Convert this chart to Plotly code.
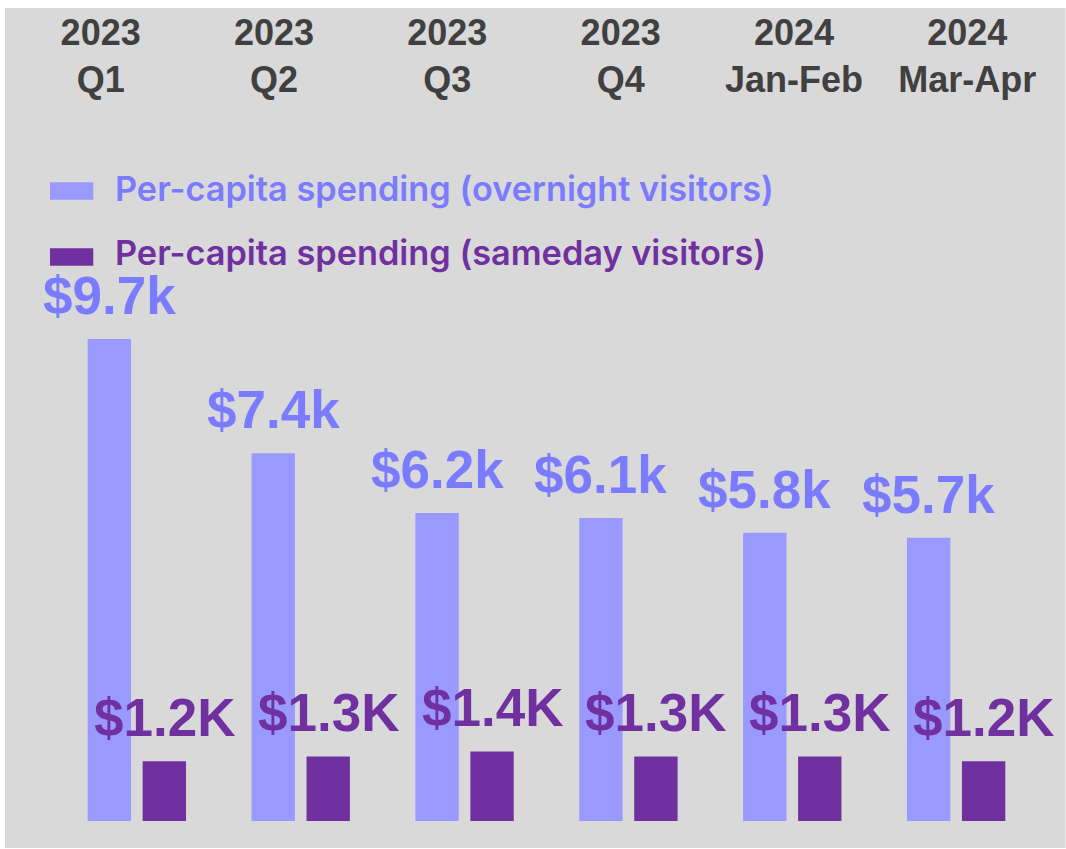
import plotly.graph_objects as go

# ---- data ----
periods = ["2023 Q1", "2023 Q2", "2023 Q3", "2023 Q4", "2024 Jan-Feb", "2024 Mar-Apr"]
period_labels = ["2023<br>Q1", "2023<br>Q2", "2023<br>Q3", "2023<br>Q4", "2024<br>Jan-Feb", "2024<br>Mar-Apr"]
overnight = [9700, 7400, 6200, 6100, 5800, 5700]
sameday = [1200, 1300, 1400, 1300, 1300, 1200]
overnight_name = "Per-capita spending (overnight visitors)"
sameday_name = "Per-capita spending (sameday visitors)"

overnight_text = [f"${v/1000:.1f}k" for v in overnight]
sameday_text = [f"${v/1000:.1f}K" for v in sameday]

# ---- layout geometry (pixels) ----
W, H = 1066, 849
L, R = 14, 1066 - 1054.4
T, B = 100, 849 - 821
plot_w = W - L - R
plot_h = H - T - B
px_per_unit = 49.69 / 1000.0
y_max = plot_h / px_per_unit
BAR_OFFSET = 27.5  # px between group centre and each bar centre

def fx(px):
    return (px - L) / plot_w

def fy(py):
    return (H - B - py) / plot_h

C_OVER = "#9999FF"
C_OVER_TXT = "#7B7BFF"
C_SAME = "#7030A0"
BG = "#D9D9D9"

fig = go.Figure()
fig.add_trace(go.Bar(
    x=periods, y=overnight, name=overnight_name,
    marker=dict(color=C_OVER, line=dict(width=0)),
    showlegend=False, hoverinfo="x+y",
))
fig.add_trace(go.Bar(
    x=periods, y=sameday, name=sameday_name,
    marker=dict(color=C_SAME, line=dict(width=0)),
    showlegend=False, hoverinfo="x+y",
))
# invisible trace to hold the top period axis
fig.add_trace(go.Scatter(x=[], y=[], xaxis="x2", yaxis="y", showlegend=False, hoverinfo="skip"))

shapes = [
    dict(type="rect", xref="paper", yref="paper", layer="below",
         x0=fx(5), x1=fx(1066), y0=fy(848), y1=fy(8),
         fillcolor=BG, line=dict(width=0)),
    dict(type="rect", xref="paper", yref="paper",
         x0=fx(50), x1=fx(93.3), y0=fy(199.7), y1=fy(182.3),
         fillcolor=C_OVER, line=dict(width=0)),
    dict(type="rect", xref="paper", yref="paper",
         x0=fx(50), x1=fx(93.3), y0=fy(265.7), y1=fy(248.3),
         fillcolor=C_SAME, line=dict(width=0)),
]
annotations = [
    dict(xref="paper", yref="paper", x=fx(113), y=fy(189), xanchor="left", yanchor="middle",
         text=overnight_name, showarrow=False,
         font=dict(family="Inter", size=34.3, color=C_OVER_TXT, weight=600)),
    dict(xref="paper", yref="paper", x=fx(113), y=fy(252), xanchor="left", yanchor="middle",
         text=sameday_name, showarrow=False,
         font=dict(family="Inter", size=34.3, color=C_SAME, weight=600)),
]
label_font = dict(family="Liberation Sans", size=53, weight="bold")
for p, v, t in zip(periods, overnight, overnight_text):
    annotations.append(dict(xref="x", yref="y", x=p, y=v, text=t, showarrow=False,
                            xanchor="center", yanchor="bottom", xshift=-BAR_OFFSET, yshift=12,
                            font=dict(label_font, color=C_OVER_TXT)))
for p, v, t in zip(periods, sameday, sameday_text):
    annotations.append(dict(xref="x", yref="y", x=p, y=v, text=t, showarrow=False,
                            xanchor="center", yanchor="bottom", xshift=BAR_OFFSET, yshift=12,
                            font=dict(label_font, color=C_SAME)))

x0c, x5c = 136.9, 956.5
step = (x5c - x0c) / 5
dom = [fx(x0c - step / 2), fx(x5c + step / 2)]

fig.update_layout(
    width=W, height=H,
    margin=dict(l=L, r=R, t=T, b=B, pad=0),
    paper_bgcolor="white", plot_bgcolor="rgba(0,0,0,0)",
    barmode="group", bargap=0.329, bargroupgap=0.211,
    shapes=shapes, annotations=annotations,
    xaxis=dict(domain=dom, range=[-0.5, 5.5], autorange=False, showticklabels=False,
               showgrid=False, zeroline=False, showline=False, ticks="", fixedrange=True),
    xaxis2=dict(anchor="y", side="top", domain=[0, 1],
                type="linear", range=[-0.5, 5.5], autorange=False,
                tickmode="array", tickvals=list(range(len(periods))), ticktext=period_labels,
                tickfont=dict(family="Liberation Sans", size=36, color="#404040", weight="bold"),
                showgrid=False, zeroline=False, showline=False, ticks=""),
    yaxis=dict(range=[0, y_max], autorange=False, visible=False, showgrid=False, zeroline=False),
)

fig.write_html("out.html", config={"displayModeBar": False},
               post_script="document.body.style.margin='0';")
